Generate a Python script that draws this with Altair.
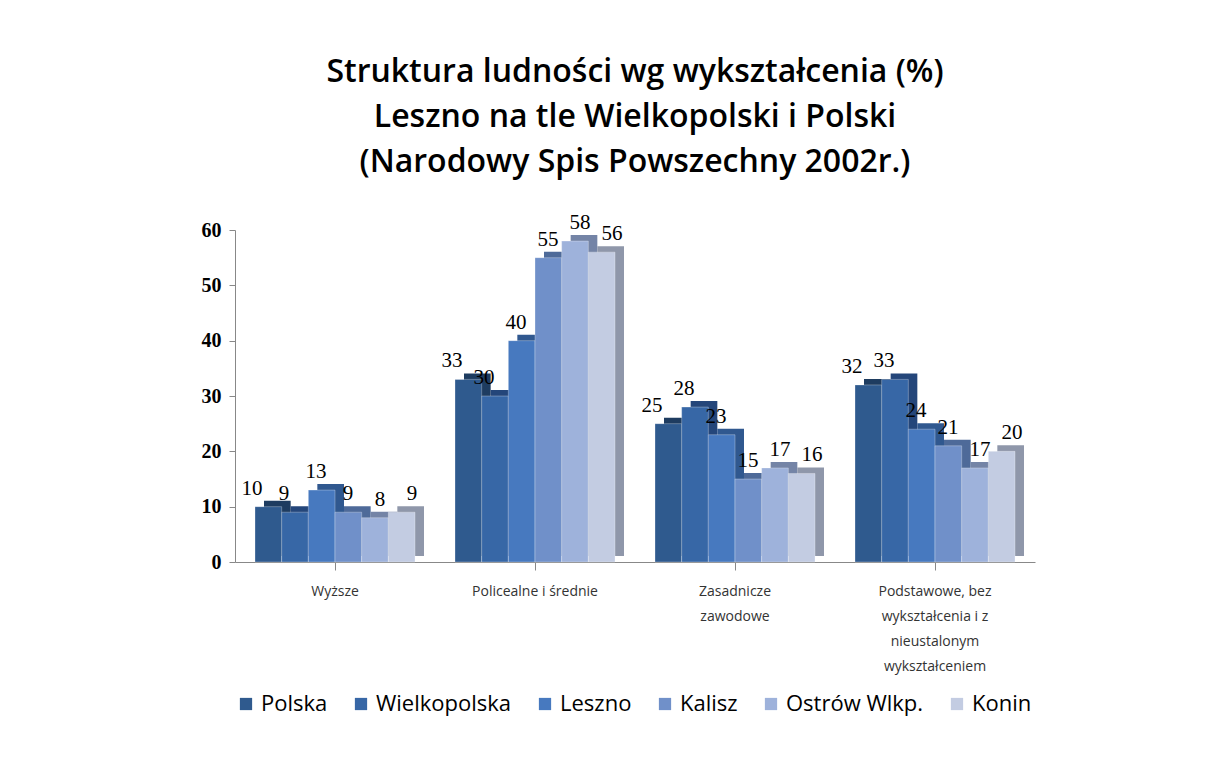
import altair as alt
import pandas as pd

categories = ["Wyższe", "Policealne i średnie", "Zasadnicze zawodowe",
              "Podstawowe, bez wykształcenia i z nieustalonym wykształceniem"]
category_lines = [["Wyższe"], ["Policealne i średnie"], ["Zasadnicze", "zawodowe"],
                  ["Podstawowe, bez", "wykształcenia i z", "nieustalonym", "wykształceniem"]]
series = ["Polska", "Wielkopolska", "Leszno", "Kalisz", "Ostrów Wlkp.", "Konin"]
values = {
    "Polska":       [10, 33, 25, 32],
    "Wielkopolska": [9, 30, 28, 33],
    "Leszno":       [13, 40, 23, 24],
    "Kalisz":       [9, 55, 15, 21],
    "Ostrów Wlkp.": [8, 58, 17, 17],
    "Konin":        [9, 56, 16, 20],
}
colors = ["#2F5A8E", "#3767A6", "#4779BF", "#7090C9", "#9EB2DB", "#C3CCE2"]
side_colors = ["#1E3C60", "#24467A", "#30588F", "#4E6A99", "#7484A6", "#8F97AA"]

rows = []
for si, s in enumerate(series):
    for ci, c in enumerate(categories):
        rows.append({"kat": c, "seria": s, "wartosc": values[s][ci],
                     "side": side_colors[si]})
df = pd.DataFrame(rows)

label_expr = " : ".join(
    f"datum.value == '{c}' ? {lines!r}" for c, lines in zip(categories, category_lines)
) + " : datum.label"

W = 800
x_scale = alt.Scale(paddingInner=0.2, paddingOuter=0.1)
band = W / (len(categories)) * 0.8  # bandwidth = 0.8 * step
depth_x = 9

x_enc = alt.X("kat:N", sort=categories, title=None, scale=x_scale,
              axis=alt.Axis(labelExpr=label_expr, labelAngle=0, labelFont="Open Sans",
                            labelFontSize=14, labelColor="#333333", labelLineHeight=25,
                            labelPadding=14, tickColor="#888888", domainColor="#888888",
                            tickSize=8, labelBaseline="top"))

base = alt.Chart(df)

back = base.mark_bar(yOffset=-6, y2Offset=-6).encode(
    x=x_enc,
    xOffset=alt.XOffset("seria:N", sort=series,
                        scale=alt.Scale(domain=series, range=[depth_x, band + depth_x],
                                        paddingInner=0, paddingOuter=0)),
    y=alt.Y("wartosc:Q"),
    color=alt.Color("side:N", scale=None),
)

xoff = alt.XOffset("seria:N", sort=series,
                   scale=alt.Scale(domain=series, range=[0, band],
                                   paddingInner=0, paddingOuter=0))

front = base.mark_bar(stroke="#FFFFFF", strokeWidth=0.3).encode(
    x=x_enc, xOffset=xoff,
    y=alt.Y("wartosc:Q", title=None,
            scale=alt.Scale(domain=[0, 60]),
            axis=alt.Axis(values=[0, 10, 20, 30, 40, 50, 60], grid=False,
                          labelFont="Liberation Serif", labelFontSize=20,
                          labelFontWeight="bold", labelColor="#000000",
                          tickColor="#888888", domainColor="#888888", tickSize=6,
                          labelPadding=8)),
    color=alt.Color("seria:N", sort=series,
                    scale=alt.Scale(domain=series, range=colors),
                    legend=alt.Legend(title=None, orient="bottom", direction="horizontal",
                                      symbolType="square", symbolSize=150,
                                      symbolStrokeWidth=0,
                                      labelFont="Open Sans", labelFontSize=22,
                                      labelColor="#000000", columnPadding=22,
                                      labelOffset=4, offset=20)),
)

text = base.mark_text(baseline="bottom", dy=-8, dx=-3, font="Liberation Serif",
                      fontSize=21, color="#000000").encode(
    x=x_enc, xOffset=xoff,
    y=alt.Y("wartosc:Q"),
    text=alt.Text("wartosc:Q"),
)

chart = alt.layer(back, front, text).resolve_scale(xOffset="independent").properties(
    width=W, height=332,
    padding={"left": 193, "top": 48, "right": 140, "bottom": 20},
    title=alt.TitleParams(
        ["Struktura ludności wg wykształcenia (%)", "Leszno na tle Wielkopolski i Polski",
         "(Narodowy Spis Powszechny 2002r.)"],
        font="Open Sans", fontSize=32, fontWeight=600, lineHeight=45,
        color="#000000", anchor="middle", offset=33),
).configure(background="#FFFFFF", view=alt.ViewConfig(stroke="transparent", strokeWidth=0))

chart.save("out.html", embed_options={"renderer": "svg", "actions": False})
